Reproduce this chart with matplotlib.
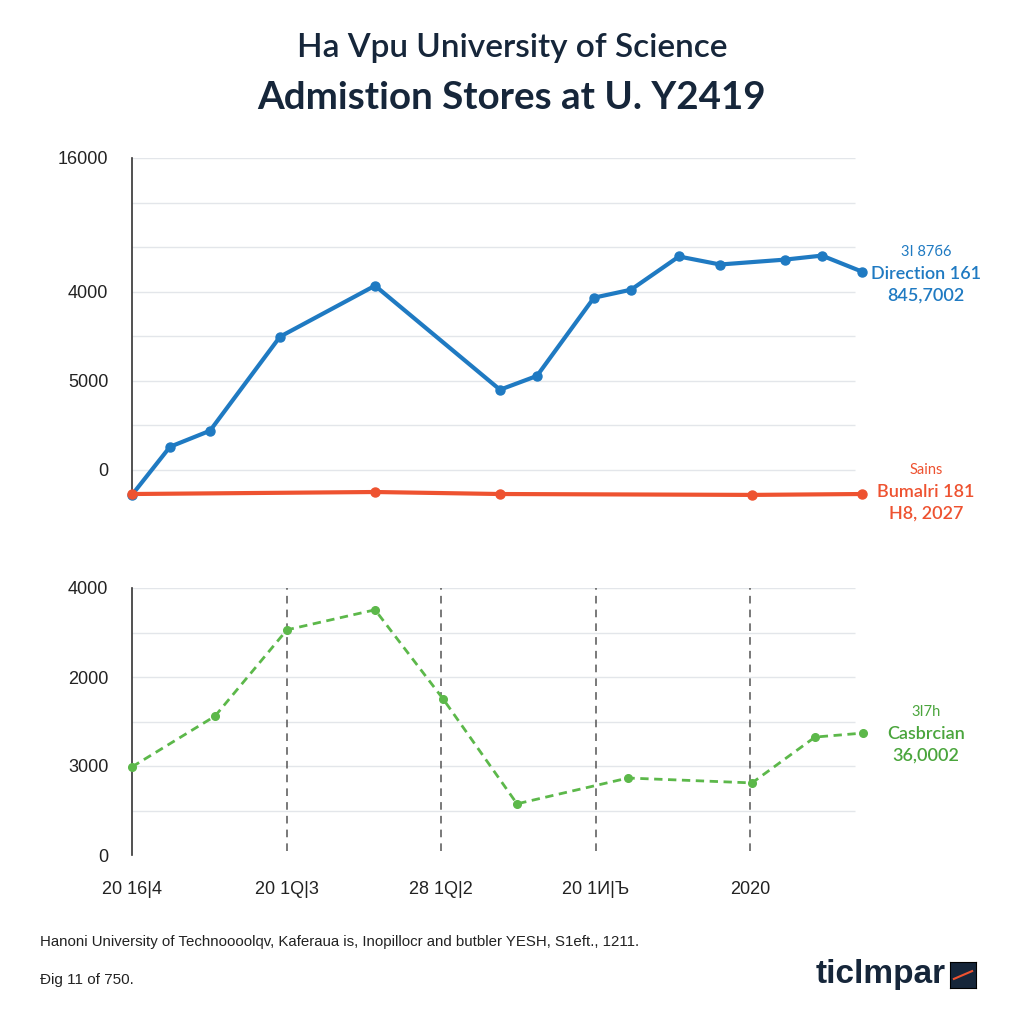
import matplotlib.pyplot as plt

plt.rcParams["font.family"] = ["Liberation Sans", "DejaVu Sans"]

# ---- data ----
blue_x = [0, 0.246, 0.505, 0.958, 1.573, 2.382, 2.621, 2.990, 3.230, 3.540, 3.806, 4.227, 4.466, 4.725]
blue_y = [-560, 520, 880, 2990, 4135, 1800, 2110, 3865, 4045, 4790, 4610, 4720, 4810, 4450]

red_x = [0, 1.573, 2.382, 4.013, 4.725]
red_y = [-540, -495, -540, -560, -540]

green_x = [0, 0.537, 1.003, 1.573, 2.013, 2.492, 3.210, 4.013, 4.421, 4.731]
green_y = [1980, 3120, 5060, 5510, 3510, 1150, 1730, 1620, 2650, 2740]

top_ticks = [0, 2000, 4000, 7000]
top_ticklabels = ["0", "5000", "4000", "16000"]
bot_ticks = [0, 2000, 4000, 6000]
bot_ticklabels = ["0", "3000", "2000", "4000"]
x_ticks = [0, 1, 2, 3, 4]
x_ticklabels = ["20 16|4", "20 1Q|3", "28 1Q|2", "20 1И|Ъ", "2020"]

BLUE, RED, GREEN = "#1f7ac2", "#ee5230", "#5cb84a"
NAVY = "#16263a"
GRID = "#e3e6ea"

fig = plt.figure(figsize=(10.24, 10.24), dpi=100)
fig.patch.set_facecolor("white")

W = 1024.0
x0_px = 132
px_per_x = 154.5
x_right = 880


def make_ax(top_px, bot_px):
    ax = fig.add_axes([x0_px / W, 1 - bot_px / W, (x_right - x0_px) / W, (bot_px - top_px) / W])
    ax.set_xlim(0, (x_right - x0_px) / px_per_x)
    for s in ("top", "right", "bottom"):
        ax.spines[s].set_visible(False)
    ax.spines["left"].set_color("#333333")
    ax.spines["left"].set_linewidth(1.2)
    ax.tick_params(axis="both", length=0, labelsize=13, labelcolor="#222222", pad=17)
    ax.set_facecolor("none")
    return ax


# ---- top panel ----
ax1 = make_ax(158, 505)
ax1.set_ylim((470 - 505) / 44.5 * 1000, 7000)
for v in range(0, 8000, 1000):
    ax1.hlines(v, 0, (855 - x0_px) / px_per_x, color=GRID, lw=1, zorder=0)
ax1.set_yticks(top_ticks, top_ticklabels)
ax1.set_xticks([])
ax1.spines["left"].set_bounds(-560, 7000)
ax1.plot(blue_x, blue_y, color=BLUE, lw=3, marker="o", ms=6.5, clip_on=False, zorder=3)
ax1.plot(red_x, red_y, color=RED, lw=3, marker="o", ms=6.5, clip_on=False, zorder=3)

# ---- bottom panel ----
ax2 = make_ax(588, 855)
ax2.set_ylim(0, 6000)
for v in range(1000, 7000, 1000):
    ax2.hlines(v, 0, (855 - x0_px) / px_per_x, color=GRID, lw=1, zorder=0)
ax2.set_yticks(bot_ticks, bot_ticklabels)
ax2.set_xticks(x_ticks, x_ticklabels)
ax2.tick_params(axis="x", pad=19)
for xv in x_ticks[1:]:
    ax2.vlines(xv, 100, 6000, color="#555555", lw=1.1, ls=(0, (5, 4)), zorder=1)
ax2.plot(green_x, green_y, color=GREEN, lw=2, ls=(0, (3, 2)), marker="o", ms=5.5,
         clip_on=False, zorder=3)

# ---- titles ----
fig.text(0.5, 1 - 48 / W, "Ha Vpu University of Science", ha="center", va="center",
         fontsize=24, color=NAVY, family="Lato", fontweight="semibold")
fig.text(0.5, 1 - 98 / W, "Admistion Stores at U. Y2419", ha="center", va="center",
         fontsize=27.7, color=NAVY, family="Lato", fontweight="bold")

# ---- right annotations ----
def note(y_px, lines, color):
    sizes = [10.5, 13, 13]
    for i, (txt, fs) in enumerate(zip(lines, sizes)):
        fig.text(926 / W, 1 - (y_px + i * 22) / W, txt, ha="center", va="center",
                 fontsize=fs, color=color, family="Lato",
                 fontweight="normal" if i == 0 else "semibold")

note(252, ["3I 87б6", "Direction 161", "845,7002"], BLUE)
note(470, ["Sains", "Bumalri 181", "H8, 2027"], RED)
note(712, ["3I7h", "Casbrcian", "36,0002"], "#4aa53c")

# ---- footer ----
fig.text(40 / W, 1 - 942 / W,
         "Hanoni University of Technoooolqv, Kaferaua is, Inopillocr and butbler YESH, S1eft., 1211.",
         ha="left", va="center", fontsize=10.8, color="#222222")
fig.text(40 / W, 1 - 980 / W, "Ɖig 11 of 750.", ha="left", va="center",
         fontsize=11, color="#222222")
fig.text(946 / W, 1 - 975 / W, "ticlmpar", ha="right", va="center",
         fontsize=24, fontweight="bold", color=NAVY)
logo = fig.add_axes([950 / W, 1 - 988 / W, 26 / W, 26 / W])
logo.set_facecolor(NAVY)
logo.set_xticks([])
logo.set_yticks([])
logo.plot([0.15, 0.85], [0.35, 0.65], color=RED, lw=1.5)
logo.set_xlim(0, 1)
logo.set_ylim(0, 1)

fig.savefig("out.png", dpi=100)
